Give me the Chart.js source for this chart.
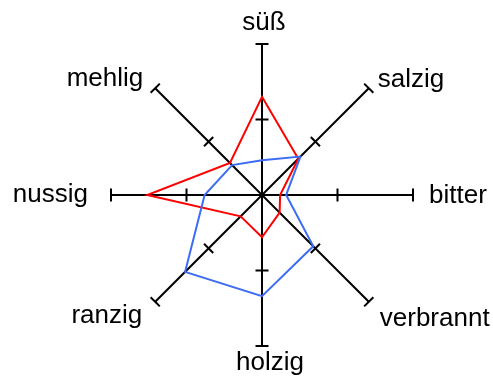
<!DOCTYPE html>
<html>
<head>
<meta charset="utf-8">
<script src="https://cdn.jsdelivr.net/npm/chart.js@4/dist/chart.umd.min.js"></script>
<style>
  html, body { margin: 0; padding: 0; background: #fff; }
  #box { width: 493px; height: 381px; }
</style>
</head>
<body>
<div id="box"><canvas id="radar"></canvas></div>
<script>
// axes, clockwise from the top
var labels = ['süß', 'salzig', 'bitter', 'verbrannt', 'holzig', 'ranzig', 'nussig', 'mehlig']
var redValues = [6.5, 3.4, 1.2, 1.65, 2.8, 2.0, 7.6, 3.0]
var blueValues = [2.3, 3.6, 1.6, 4.8, 6.7, 7.2, 3.8, 2.8]
var tickValues = [5, 10]

// where each label sits relative to the end of its axis
var labelStyle = [
    { align: 'center', dx: 2,   dy: -21 },
    { align: 'left',   dx: 9,   dy: -8 },
    { align: 'left',   dx: 16,  dy: 1 },
    { align: 'left',   dx: 11,  dy: 17 },
    { align: 'center', dx: 8,   dy: 17 },
    { align: 'right',  dx: -13, dy: 14 },
    { align: 'right',  dx: -23, dy: 0 },
    { align: 'right',  dx: -12, dy: -9 }
]

// small cross ticks on every axis
var axisTicks = {
    id: 'axisTicks',
    beforeDatasetsDraw: function(chart) {
        var scale = chart.scales.r
        var ctx = chart.ctx
        ctx.save()
        ctx.strokeStyle = '#000'
        ctx.lineWidth = 2
        for (var i = 0; i < labels.length; i++) {
            tickValues.forEach(function(v) {
                var p = scale.getPointPositionForValue(i, v)
                var nx = -Math.sin(p.angle) * 6.5
                var ny = Math.cos(p.angle) * 6.5
                ctx.beginPath()
                ctx.moveTo(p.x - nx, p.y - ny)
                ctx.lineTo(p.x + nx, p.y + ny)
                ctx.stroke()
            })
        }
        ctx.restore()
    }
}

var axisLabels = {
    id: 'axisLabels',
    afterDraw: function(chart) {
        var scale = chart.scales.r
        var ctx = chart.ctx
        ctx.save()
        ctx.font = '26px "Liberation Sans", Arial, sans-serif'
        ctx.fillStyle = '#000'
        ctx.textBaseline = 'middle'
        for (var i = 0; i < labels.length; i++) {
            var p = scale.getPointPositionForValue(i, scale.max)
            var s = labelStyle[i]
            ctx.textAlign = s.align
            ctx.fillText(labels[i], p.x + s.dx, p.y + s.dy)
        }
        ctx.restore()
    }
}

var ctx = document.getElementById('radar').getContext('2d')
var radarChart = new Chart(ctx, {
    type: 'radar',
    data: {
        labels: labels,
        datasets: [
            { label: 'B', data: blueValues, borderColor: '#3c6cf5', borderWidth: 2, fill: false, pointRadius: 0, tension: 0 },
            { label: 'A', data: redValues, borderColor: '#ff0000', borderWidth: 2, fill: false, pointRadius: 0, tension: 0 }
        ]
    },
    options: {
        responsive: true,
        maintainAspectRatio: false,
        animation: false,
        layout: { padding: { left: 40, right: 9, top: 44, bottom: 35 } },
        plugins: { legend: { display: false }, tooltip: { enabled: false } },
        scales: {
            r: {
                min: 0,
                max: 10,
                ticks: { display: false, stepSize: 5 },
                grid: { display: false },
                angleLines: { display: true, color: '#000', lineWidth: 2 },
                pointLabels: { display: false }
            }
        }
    },
    plugins: [axisTicks, axisLabels]
})
</script>
</body>
</html>
